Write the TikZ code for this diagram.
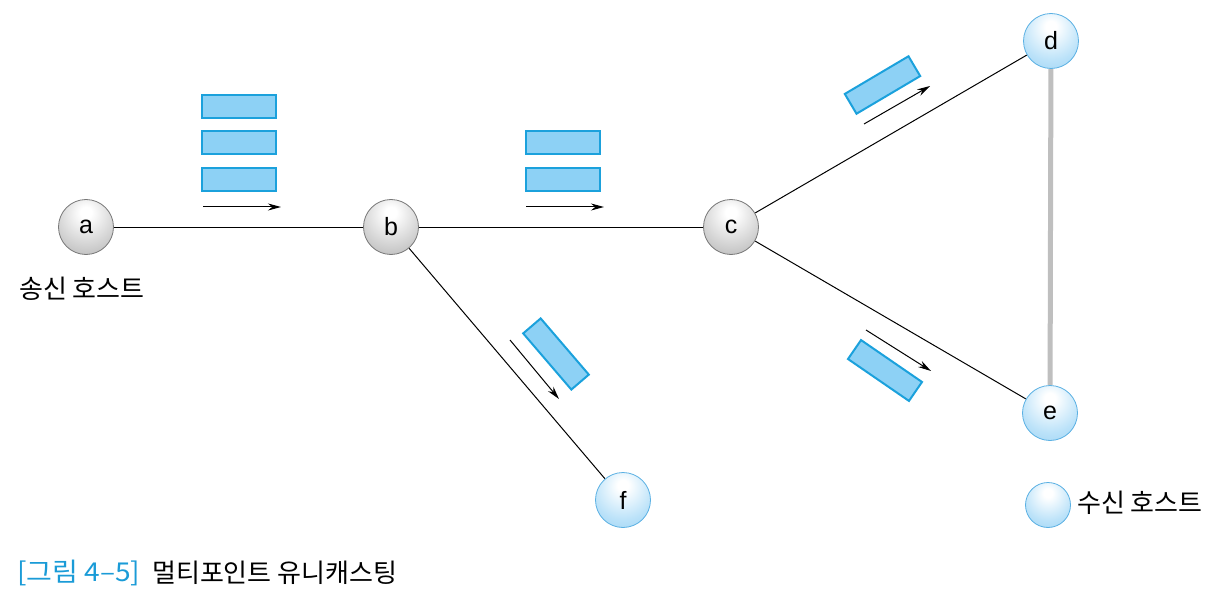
\documentclass[tikz,border=0pt]{standalone}
\usepackage{fontspec}
\setmainfont{Liberation Sans}
\newfontfamily\krfont{Noto Sans CJK KR}
\usetikzlibrary{arrows.meta,backgrounds}
\definecolor{pktfill}{HTML}{8DD1F5}
\definecolor{pktdraw}{HTML}{1BA1DC}
\definecolor{capblue}{HTML}{1A9BD7}
\definecolor{blueedge}{HTML}{5AB0E3}
\definecolor{bluemid}{HTML}{BBE2F9}
\definecolor{blueout}{HTML}{7EC4EE}
\definecolor{grayedge}{HTML}{777777}
\definecolor{graymid}{HTML}{D0D0D0}
\definecolor{grayout}{HTML}{949494}
\definecolor{linkgray}{HTML}{BFBFBF}
\pgfdeclareradialshading{grayball}{\pgfpoint{0bp}{14bp}}{color(0bp)=(white);color(5bp)=(white);color(28bp)=(graymid);color(58bp)=(grayout);color(100bp)=(grayout)}
\pgfdeclareradialshading{blueball}{\pgfpoint{0bp}{14bp}}{color(0bp)=(white);color(5bp)=(white);color(28bp)=(bluemid);color(58bp)=(blueout);color(100bp)=(blueout)}
\tikzset{
  router/.style={circle,draw=grayedge,line width=0.8pt,shading=grayball,minimum size=55pt,inner sep=0pt,font=\fontsize{25}{28}\selectfont},
  host/.style={circle,draw=blueedge,line width=0.8pt,shading=blueball,minimum size=55pt,inner sep=0pt,font=\fontsize{25}{28}\selectfont},
  legendhost/.style={host,minimum size=45pt},
  pkt/.style={rectangle,draw=pktdraw,fill=pktfill,line width=2pt,minimum width=74pt,minimum height=23pt,inner sep=0pt},
  link/.style={line width=1pt,black},
  flow/.style={line width=1pt,black,-{Stealth[length=13pt,width=7pt]}},
  krlabel/.style={font=\krfont\fontsize{26}{30}\selectfont,inner sep=0pt}
}
\begin{document}
\begin{tikzpicture}[x=1pt,y=-1pt]
\useasboundingbox (0,0) rectangle (1211,599);
% nodes
\node[router] (a) at (86,227) {a};
\node[router] (b) at (391,227) {b};
\node[router] (c) at (731,227) {c};
\node[host] (d) at (1051,41) {d};
\node[host] (e) at (1050,413) {e};
\node[host] (f) at (623,500) {f};
\node[legendhost] (lg) at (1048,505) {};
% links
\begin{scope}[on background layer]
\draw[link] (a) -- (b);
\draw[link] (b) -- (c);
\draw[link] (b) -- (f);
\draw[link] (c) -- (d);
\draw[link] (c) -- (e);
\draw[line width=5pt,linkgray] (d) -- (e);
\end{scope}
% packets a-b
\node[pkt] (p1) at (239,107) {};
\node[pkt] (p2) at (239,143) {};
\node[pkt] (p3) at (239,180) {};
\coordinate (ab1) at (203,207);
\coordinate (ab2) at (281,207);
\draw[flow] (ab1) -- (ab2);
% packets b-c
\node[pkt] (q1) at (563,143) {};
\node[pkt] (q2) at (563,180) {};
\coordinate (bc1) at (526,207);
\coordinate (bc2) at (604,207);
\draw[flow] (bc1) -- (bc2);
% packet b-f
\node[pkt,rotate=-49.4] (r1) at (556,354) {};
\coordinate (bf1) at (510,340);
\coordinate (bf2) at (559,399);
\draw[flow] (bf1) -- (bf2);
% packet c-d
\node[pkt,rotate=30.6] (s1) at (882.5,85) {};
\coordinate (cd1) at (864,124);
\coordinate (cd2) at (930,86);
\draw[flow] (cd1) -- (cd2);
% packet c-e
\node[pkt,rotate=-34.5] (t1) at (885,370.5) {};
\coordinate (ce1) at (866,330);
\coordinate (ce2) at (931,371);
\draw[flow] (ce1) -- (ce2);
% labels
\node[krlabel] (sender) at (82,289) {송신 호스트};
\node[krlabel,anchor=west] (recv) at (1077,503) {수신 호스트};
\node[krlabel,anchor=west,text=capblue] (cap1) at (17,573) {\scalebox{1.08}[1]{[그림 4–5]}};
\node[krlabel,anchor=west] (cap2) at (152,573) {멀티포인트 유니캐스팅};
\end{tikzpicture}
\end{document}
